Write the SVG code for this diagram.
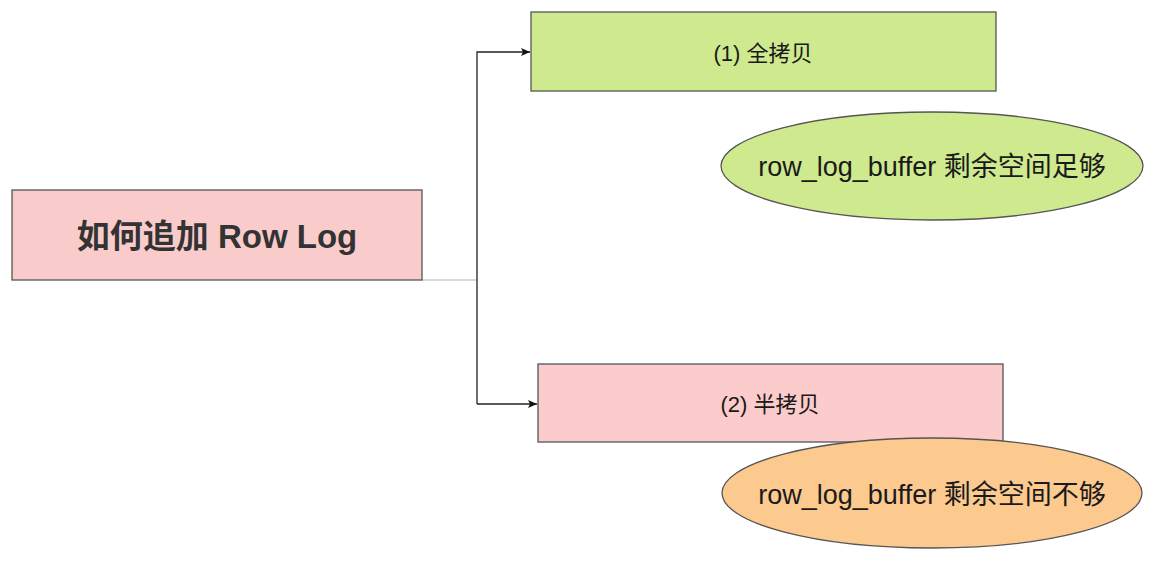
<svg xmlns="http://www.w3.org/2000/svg" width="1154" height="562" viewBox="0 0 1154 562">
<style>
.box{stroke:#555;stroke-width:1.3}
.lbl{font-family:"Liberation Sans","Noto Sans CJK SC",sans-serif;fill:#1a1a1a;text-anchor:middle;dominant-baseline:central}
.conn{fill:none;stroke:#222;stroke-width:1.3}
</style>
<defs>
<marker id="arr" markerWidth="10" markerHeight="10" refX="9" refY="5" orient="auto" markerUnits="userSpaceOnUse">
<path d="M0,1 L9,5 L0,9 L2,5 Z" fill="#111"/>
</marker>
</defs>
<rect width="1154" height="562" fill="#fff"/>
<g id="connectors">
<path d="M422,280 H477" stroke="#ccc" stroke-width="1.3" fill="none"/>
<path class="conn" d="M477,404 V52 H530" marker-end="url(#arr)"/>
<path class="conn" d="M477,404 H537" marker-end="url(#arr)"/>
</g>
<g id="root">
<rect class="box" x="12" y="190" width="410" height="90" fill="#f9cccb"/>
<text class="lbl" x="217" y="236" font-size="33" font-weight="bold" style="fill:#333">如何追加 Row Log</text>
</g>
<g id="full-copy">
<rect class="box" x="531" y="12" width="465" height="79" fill="#cfe98e"/>
<text class="lbl" x="763" y="53" font-size="22">(1) 全拷贝</text>
</g>
<g id="half-copy">
<rect class="box" x="538" y="364" width="465" height="78" fill="#fccbcb"/>
<text class="lbl" x="770" y="404" font-size="22">(2) 半拷贝</text>
</g>
<g id="enough">
<ellipse class="box" cx="932" cy="166" rx="211" ry="54" fill="#cfe98e"/>
<text class="lbl" x="932" y="167" font-size="27">row_log_buffer 剩余空间足够</text>
</g>
<g id="not-enough">
<ellipse class="box" cx="932" cy="493" rx="210" ry="55" fill="#fcc98f"/>
<text class="lbl" x="932" y="495" font-size="27">row_log_buffer 剩余空间不够</text>
</g>
</svg>
